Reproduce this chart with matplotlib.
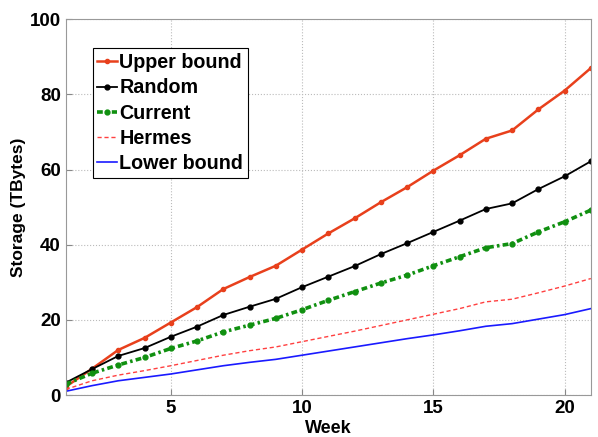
import matplotlib.pyplot as plt

weeks = list(range(1, 22))

upper_bound = [2.2, 7.0, 12.0, 15.2, 19.3, 23.4, 28.2, 31.4, 34.4, 38.7, 43.0, 47.0,
               51.3, 55.3, 59.7, 63.8, 68.2, 70.4, 76.0, 81.0, 87.0]
random_ = [3.3, 6.9, 10.4, 12.5, 15.5, 18.2, 21.3, 23.5, 25.6, 28.7, 31.5, 34.3,
           37.5, 40.4, 43.4, 46.4, 49.5, 51.0, 54.8, 58.2, 62.2]
current = [2.9, 5.8, 8.0, 10.0, 12.4, 14.4, 16.8, 18.6, 20.4, 22.7, 25.2, 27.5,
           29.8, 31.9, 34.4, 36.8, 39.2, 40.3, 43.4, 46.1, 49.2]
hermes = [1.5, 3.8, 5.3, 6.5, 7.8, 9.2, 10.6, 11.8, 12.8, 14.2, 15.6, 17.0,
          18.5, 20.0, 21.5, 23.0, 24.8, 25.5, 27.2, 29.0, 31.0]
lower_bound = [1.0, 2.5, 3.8, 4.7, 5.6, 6.7, 7.8, 8.7, 9.5, 10.6, 11.7, 12.8,
               13.9, 15.0, 16.0, 17.1, 18.3, 19.0, 20.2, 21.4, 23.0]

plt.rcParams["font.family"] = ["Liberation Sans", "DejaVu Sans"]
plt.rcParams["font.weight"] = "bold"

fig = plt.figure(figsize=(5.98, 4.37), dpi=100)
ax = fig.add_axes([0.110, 0.096, 0.878, 0.860])

ax.plot(weeks, upper_bound, color="#e8401c", lw=1.8, marker="o", ms=3, label="Upper bound")
ax.plot(weeks, random_, color="black", lw=1.3, marker="o", ms=3.5, label="Random")
ax.plot(weeks, current, color="#109010", lw=2.6, dashes=(1.6, 0.9, 0.7, 0.9),
        marker="o", ms=3.5, label="Current")
ax.plot(weeks, hermes, color="#ff4040", lw=1.0, dashes=(3, 2), label="Hermes")
ax.plot(weeks, lower_bound, color="#1a1aff", lw=1.2, label="Lower bound")

ax.set_xlim(1, 21)
ax.set_ylim(0, 100)
ax.set_xticks([5, 10, 15, 20])
ax.set_yticks([0, 20, 40, 60, 80, 100])
ax.tick_params(direction="in", labelsize=13.5, length=4, color="#888888")
ax.grid(True, ls=":", color="#bbbbbb", lw=0.8)
for s in ax.spines.values():
    s.set_color("#999999")

ax.set_xlabel("Week", fontsize=13, fontweight="bold", labelpad=2)
ax.set_ylabel("Storage (TBytes)", fontsize=12.5, fontweight="bold", labelpad=3)

leg = ax.legend(loc="upper left", bbox_to_anchor=(0.051, 0.923), fontsize=14.2,
                handlelength=1.0, handletextpad=0.1, borderpad=0.25, numpoints=1,
                labelspacing=0.32, borderaxespad=0, fancybox=False, framealpha=1)
leg.get_frame().set_edgecolor("black")
leg.get_frame().set_linewidth(0.8)

fig.savefig("out.png", dpi=100)
